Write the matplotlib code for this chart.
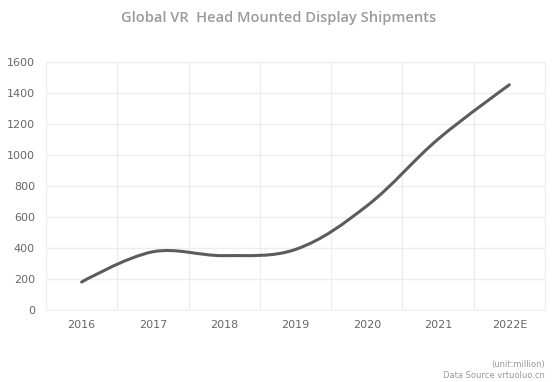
import matplotlib.pyplot as plt
import numpy as np
from matplotlib.path import Path
from matplotlib.patches import PathPatch

# Shipments in millions of units
years = ['2016', '2017', '2018', '2019', '2020', '2021', '2022E']
shipments = [180, 375, 350, 390, 670, 1100, 1450]
y_ticks = [0, 200, 400, 600, 800, 1000, 1200, 1400, 1600]

GRID = '#eeeeee'
LINE = '#5c5c5c'


def smooth_path(xs, ys, yscale, smooth=0.35):
    # cubic bezier through every point, control points from neighbour distances
    n = len(xs)
    sp = np.column_stack([xs, ys]).astype(float)
    sp[:, 1] *= yscale
    cps_in, cps_out = [], []
    for i in range(n):
        if i == 0 or i == n - 1:
            cps_in.append(sp[i]); cps_out.append(sp[i])
            continue
        prev, cur, nxt = sp[i - 1], sp[i], sp[i + 1]
        v = nxt - prev
        d0 = np.hypot(*(cur - prev))
        d1 = np.hypot(*(nxt - cur))
        r = d1 / (d0 + d1)
        cps_in.append(cur - v * smooth * (1 - r))
        cps_out.append(cur + v * smooth * r)
    verts = [sp[0]]
    codes = [Path.MOVETO]
    for i in range(1, n):
        verts += [cps_out[i - 1], cps_in[i], sp[i]]
        codes += [Path.CURVE4] * 3
    verts = np.array(verts)
    verts[:, 1] /= yscale
    return Path(verts, codes)


fig = plt.figure(figsize=(5.57, 3.82), dpi=100)
ax = fig.add_axes([46 / 557, 1 - 310 / 382, 499 / 557, 248.5 / 382])

x = np.arange(len(years))
# pixels per category vs pixels per million, so smoothing works in screen space
yscale = (248.5 / 1600) / (499 / len(years))
path = smooth_path(x, shipments, yscale)
ax.add_patch(PathPatch(path, facecolor='none', edgecolor=LINE, lw=2.2,
                       capstyle='round', joinstyle='round', zorder=3))

ax.set_xlim(-0.5, len(years) - 0.5)
ax.set_ylim(0, 1600)
ax.set_yticks(y_ticks)
ax.set_xticks(x)
ax.set_xticklabels(years)
ax.set_xticks(np.arange(-0.5, len(years)), minor=True)
ax.grid(True, axis='y', color=GRID, lw=1)
ax.grid(True, axis='x', which='minor', color=GRID, lw=1)
ax.tick_params(which='both', length=0, labelsize=8, labelcolor='#666666')
ax.tick_params(axis='x', pad=7)
ax.tick_params(axis='y', pad=8)
for s in ax.spines.values():
    s.set_color(GRID)

fig.text(0.5, 1 - 18 / 382, 'Global VR  Head Mounted Display Shipments',
         ha='center', va='center', fontsize=10.5, color='#9a9a9a',
         fontweight='semibold', family='Open Sans')
fig.text(545 / 557, 1 - 364 / 382, '(unit:million)', ha='right', va='center',
         fontsize=6, color='#999999')
fig.text(545 / 557, 1 - 375 / 382, 'Data Source vrtuoluo.cn', ha='right',
         va='center', fontsize=6, color='#999999')

fig.savefig('out.png', dpi=100, facecolor='white')
